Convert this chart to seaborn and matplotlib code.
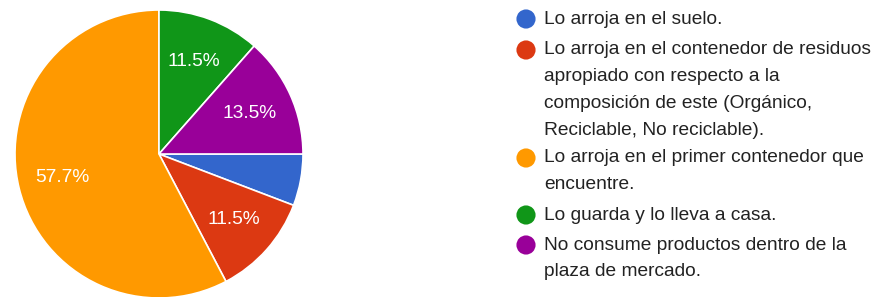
import numpy as np
import matplotlib
matplotlib.use("Agg")
import matplotlib.pyplot as plt
import seaborn as sns

sns.set_theme(style="white")
plt.rcParams['font.family'] = ['Liberation Sans', 'DejaVu Sans']

# data (52 responses)
categories = [
    "Lo arroja en el suelo.",
    "Lo arroja en el contenedor de residuos\napropiado con respecto a la\ncomposición de este (Orgánico,\nReciclable, No reciclable).",
    "Lo arroja en el primer contenedor que\nencuentre.",
    "Lo guarda y lo lleva a casa.",
    "No consume productos dentro de la\nplaza de mercado.",
]
percentages = [5.8, 11.5, 57.7, 11.5, 13.5]
colors = ["#3366cc", "#dc3912", "#ff9900", "#109618", "#990099"]

W, H = 879, 297
fig = plt.figure(figsize=(W / 100, H / 100), dpi=100)

# pie axes: center (159, 154) px from top, radius 144 px
cx, cy, r = 159, 154, 144
ax = fig.add_axes([(cx - r) / W, (H - cy - r) / H, 2 * r / W, 2 * r / H])


def fmt(p):
    return f"{p:.1f}%" if p > 8 else ""


wedges, texts, autotexts = ax.pie(
    percentages, colors=colors, startangle=0, counterclock=False,
    autopct=fmt, pctdistance=0.69, radius=1.0,
    wedgeprops=dict(edgecolor="white", linewidth=1.2),
    textprops=dict(color="white", fontsize=13.8),
)
ax.set_xlim(-1, 1)
ax.set_ylim(-1, 1)
ax.axis("off")

# legend drawn in pixel coords
lax = fig.add_axes([0, 0, 1, 1])
lax.set_xlim(0, W)
lax.set_ylim(H, 0)
lax.axis("off")
item_y = [19, 50, 158, 215, 245]
line_h = 26.7
for label, col, y in zip(categories, colors, item_y):
    lax.scatter([526], [y], s=190, color=col, edgecolor="none")
    for k, line in enumerate(label.split("\n")):
        lax.text(544, y + k * line_h, line, fontsize=13.8, color="#222222",
                 va="center", ha="left")

fig.savefig("out.png", dpi=100, facecolor="white")
